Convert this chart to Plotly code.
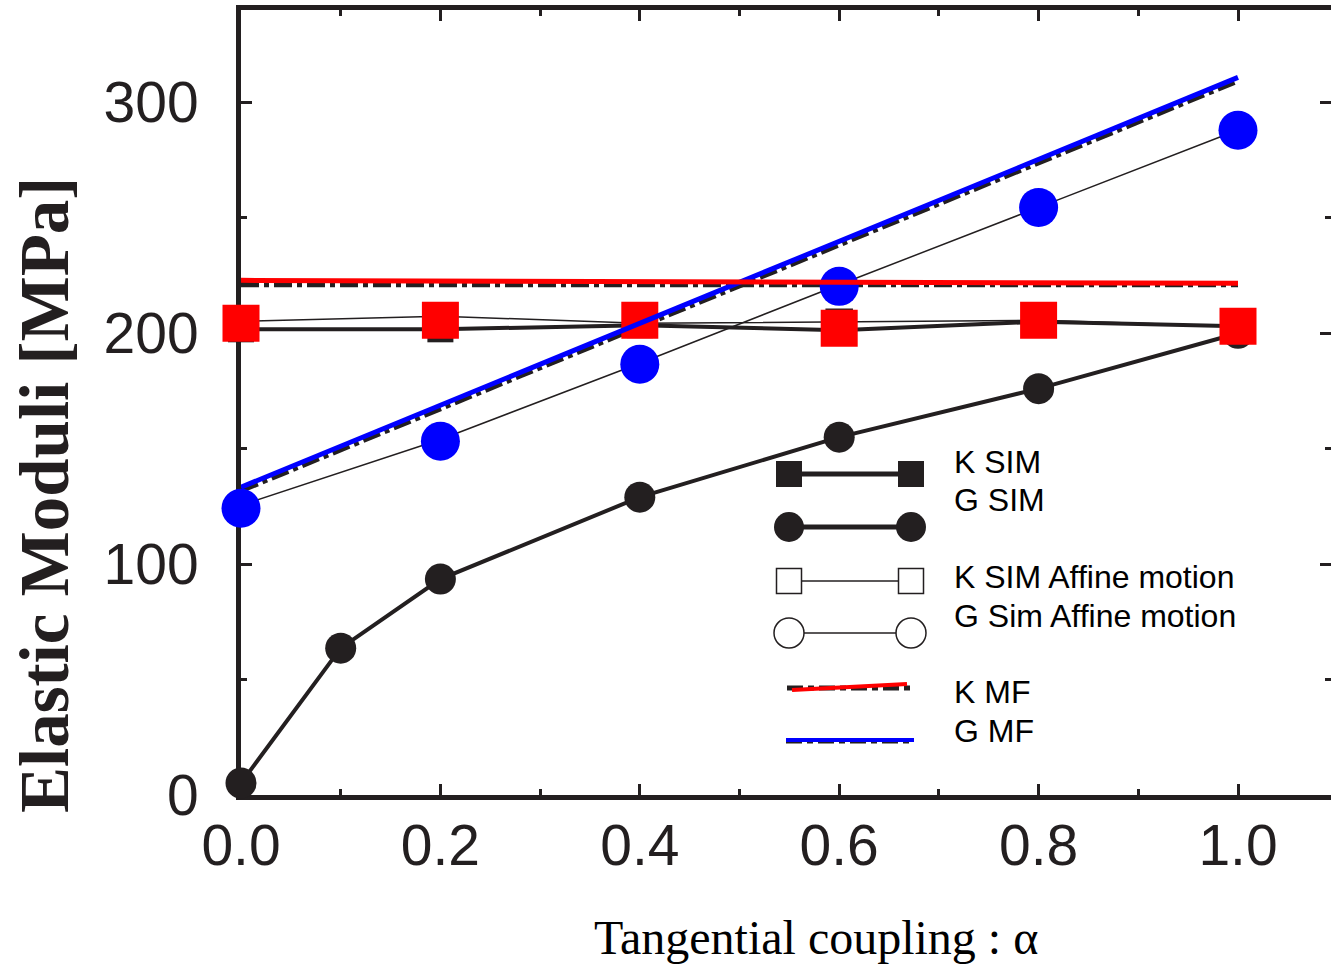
import plotly.graph_objects as go

# ---------------- data ----------------
alpha = [0.0, 0.2, 0.4, 0.6, 0.8, 1.0]
alpha_g = [0.0, 0.1, 0.2, 0.4, 0.6, 0.8, 1.0]
k_sim = [201.7, 201.7, 203.5, 201.3, 205.0, 203.0]
g_sim = [5.2, 63.6, 93.5, 129.0, 155.0, 176.0, 200.0]
k_affine = [205.2, 207.4, 204.3, 204.8, 205.6, 203.0]
g_affine = [125.5, 154.0, 187.0, 221.0, 254.5, 288.0]
k_highlight = [204.3, 205.6, 205.6, 202.2, 205.6, 203.0]   # red squares
g_highlight = [124.2, 153.2, 186.6, 220.3, 254.5, 287.9]   # blue circles
mf_alpha = [0.0, 1.0]
k_mf_black = [221.2, 221.2]
k_mf = [222.9, 221.6]
g_mf_black = [132.0, 309.5]
g_mf = [133.3, 310.8]

x_ticks = [0.0, 0.2, 0.4, 0.6, 0.8, 1.0]
x_ticklabels = ["0.0", "0.2", "0.4", "0.6", "0.8", "1.0"]
y_ticks = [0, 100, 200, 300]
y_ticklabels = ["0", "100", "200", "300"]

legend_labels = ["K SIM", "G SIM", "K SIM Affine motion", "G Sim Affine motion", "K MF", "G MF"]

# ---------------- layout geometry ----------------
W, H = 1331, 965
L, R, T, B = 241, 0, 10, 170
PW, PH = W - L - R, H - T - B
INK = "#231f20"


def px(X):
    return (X - L) / PW


def py(Y):
    return (H - B - Y) / PH


fig = go.Figure()

DASH = "18px,5px,5px,5px"
# MF black dashed references
fig.add_trace(go.Scatter(x=mf_alpha, y=k_mf_black, mode="lines",
                         line=dict(color=INK, width=6, dash=DASH),
                         hoverinfo="skip", showlegend=False))
fig.add_trace(go.Scatter(x=mf_alpha, y=g_mf_black, mode="lines",
                         line=dict(color=INK, width=6, dash=DASH),
                         hoverinfo="skip", showlegend=False))
# Affine motion (thin lines, open markers)
fig.add_trace(go.Scatter(x=alpha, y=k_affine, mode="lines+markers",
                         line=dict(color=INK, width=1.5), cliponaxis=False,
                         marker=dict(symbol="square", size=26, color="white",
                                     line=dict(color=INK, width=1.5)),
                         showlegend=False))
fig.add_trace(go.Scatter(x=alpha, y=g_affine, mode="lines+markers",
                         line=dict(color=INK, width=1.5), cliponaxis=False,
                         marker=dict(symbol="circle", size=30, color="white",
                                     line=dict(color=INK, width=1.5)),
                         showlegend=False))
# SIM (thick lines, filled markers)
fig.add_trace(go.Scatter(x=alpha, y=k_sim, mode="lines+markers",
                         line=dict(color=INK, width=4), cliponaxis=False,
                         marker=dict(symbol="square", size=26, color=INK),
                         showlegend=False))
fig.add_trace(go.Scatter(x=alpha_g, y=g_sim, mode="lines+markers",
                         line=dict(color=INK, width=4), cliponaxis=False,
                         marker=dict(symbol="circle", size=31, color=INK),
                         showlegend=False))
# coloured highlight markers
fig.add_trace(go.Scatter(x=alpha, y=k_highlight, mode="markers", cliponaxis=False,
                         marker=dict(symbol="square", size=37, color="#ff0000"),
                         showlegend=False))
fig.add_trace(go.Scatter(x=alpha, y=g_highlight, mode="markers", cliponaxis=False,
                         marker=dict(symbol="circle", size=39, color="#0000ff"),
                         showlegend=False))
# MF coloured lines
fig.add_trace(go.Scatter(x=mf_alpha, y=g_mf, mode="lines",
                         line=dict(color="#0000ff", width=5), showlegend=False))
fig.add_trace(go.Scatter(x=mf_alpha, y=k_mf, mode="lines",
                         line=dict(color="#ff0000", width=5), showlegend=False))
# dummy trace to activate the mirrored frame axes
fig.add_trace(go.Scatter(x=[alpha[0]], y=[g_sim[0]], mode="markers",
                         marker=dict(opacity=0), xaxis="x2", yaxis="y2",
                         hoverinfo="skip", showlegend=False))

xr = [0, (W - L) / 997.0]
yr = [0, 340]

axis_common = dict(showgrid=False, zeroline=False, showline=True, linecolor=INK,
                   linewidth=5, ticks="inside", tickcolor=INK, tickwidth=3, ticklen=11,
                   layer="below traces")

fig.update_layout(
    width=W, height=H,
    margin=dict(l=L, r=R, t=T, b=B),
    paper_bgcolor="white", plot_bgcolor="white",
    showlegend=False,
    xaxis=dict(range=xr, tickvals=x_ticks, ticktext=x_ticklabels,
               tickfont=dict(family="Liberation Sans, Arial", size=57, color=INK),
               ticklabelstandoff=-3,
               minor=dict(tickvals=[0.1, 0.3, 0.5, 0.7, 0.9], ticks="inside",
                          ticklen=6, tickwidth=3, tickcolor=INK),
               **axis_common),
    yaxis=dict(range=yr, tickvals=y_ticks, ticktext=y_ticklabels,
               tickfont=dict(family="Liberation Sans, Arial", size=57, color=INK),
               ticklabelstandoff=26,
               minor=dict(tickvals=[50, 150, 250], ticks="inside",
                          ticklen=6, tickwidth=3, tickcolor=INK),
               **axis_common),
    xaxis2=dict(range=xr, overlaying="x", side="top", tickvals=x_ticks,
                showticklabels=False,
                minor=dict(tickvals=[0.1, 0.3, 0.5, 0.7, 0.9], ticks="inside",
                           ticklen=6, tickwidth=3, tickcolor=INK),
                **axis_common),
    yaxis2=dict(range=yr, overlaying="y", side="right", tickvals=y_ticks,
                showticklabels=False, showgrid=False, zeroline=False, showline=False,
                ticks="inside", tickcolor=INK, tickwidth=3, ticklen=11,
                minor=dict(tickvals=[50, 150, 250], ticks="inside",
                           ticklen=6, tickwidth=3, tickcolor=INK)),
)

# axis titles
fig.add_annotation(text="Tangential coupling : α", xref="paper", yref="paper",
                   x=px(816), y=py(937), xanchor="center", yanchor="middle",
                   showarrow=False,
                   font=dict(family="Liberation Serif, Times New Roman", size=48, color="black"))
fig.add_annotation(text="<b>Elastic Moduli [MPa]</b>", xref="paper", yref="paper",
                   x=px(45), y=py(495), xanchor="center", yanchor="middle",
                   textangle=-90, showarrow=False,
                   font=dict(family="Liberation Serif, Times New Roman", size=69, color=INK))

# ---------------- custom legend ----------------
shapes = []
lx0, lx1 = 789, 911


def seg(x0, y0, x1, y1, color, width, dash="solid"):
    shapes.append(dict(type="line", xref="paper", yref="paper",
                       x0=px(x0), y0=py(y0), x1=px(x1), y1=py(y1),
                       line=dict(color=color, width=width, dash=dash)))


def mark(kind, X, Y, size, fill, lw=0, lc=INK):
    s = size / 2
    shapes.append(dict(type=kind, xref="paper", yref="paper",
                       xsizemode="pixel", ysizemode="pixel",
                       xanchor=px(X), yanchor=py(Y),
                       x0=-s, x1=s, y0=-s, y1=s,
                       fillcolor=fill, line=dict(color=lc, width=lw)))


# K SIM
seg(lx0, 474, lx1, 474, INK, 5)
mark("rect", lx0, 474, 26, INK)
mark("rect", lx1, 474, 26, INK)
# G SIM
seg(lx0, 527, lx1, 527, INK, 5)
mark("circle", lx0, 527, 30, INK)
mark("circle", lx1, 527, 30, INK)
# K SIM affine
seg(lx0, 581, lx1, 581, INK, 1.5)
mark("rect", lx0, 581, 25, "white", 1.5)
mark("rect", lx1, 581, 25, "white", 1.5)
# G Sim affine
seg(lx0, 633, lx1, 633, INK, 1.5)
mark("circle", lx0, 633, 30, "white", 1.5)
mark("circle", lx1, 633, 30, "white", 1.5)
# K MF
seg(787, 688, 914, 688, INK, 5, "16px,5px,6px,5px")
seg(792, 690, 907, 684, "#ff0000", 4)
# G MF
seg(786, 741, 914, 741, INK, 5, "16px,5px,6px,5px")
seg(786, 740, 914, 740, "#0000ff", 4)

fig.update_layout(shapes=shapes)

text_y = [462, 500, 577, 616, 692, 731]
for lab, ty in zip(legend_labels, text_y):
    fig.add_annotation(text=lab, xref="paper", yref="paper", x=px(952), y=py(ty),
                       xanchor="left", yanchor="middle", showarrow=False,
                       font=dict(family="Liberation Sans, Arial", size=32, color="black"))

fig.write_html("out.html",
               config={"displayModeBar": False},
               post_script="document.body.style.margin='0';document.body.style.padding='0';")
